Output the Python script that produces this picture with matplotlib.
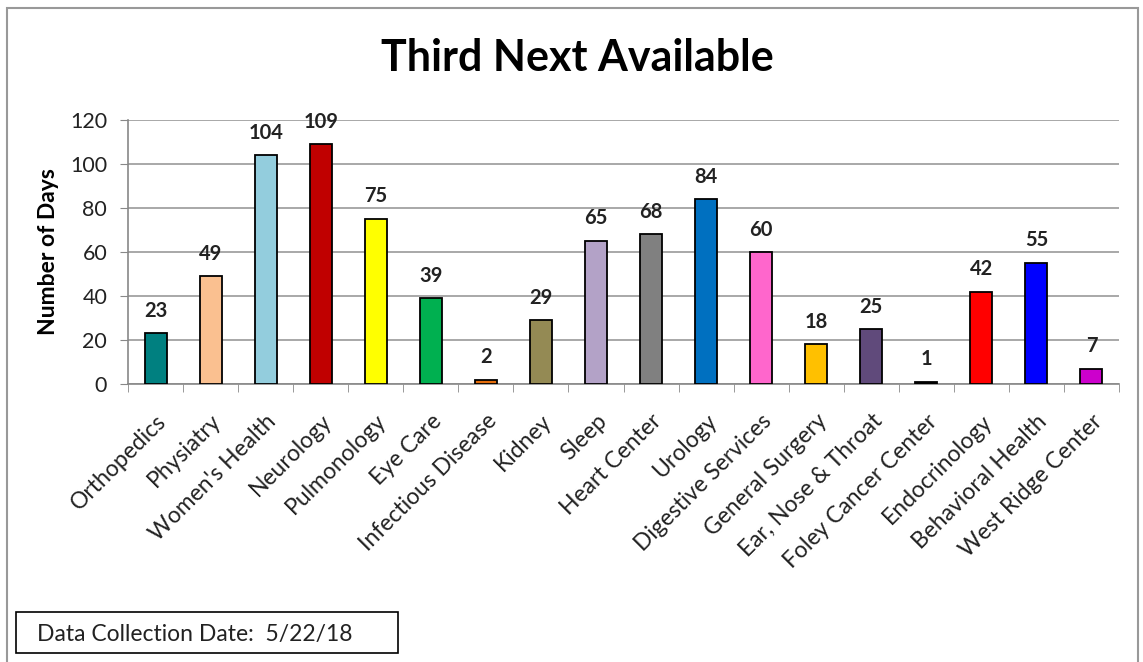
import numpy as np
import matplotlib
matplotlib.use('Agg')
import matplotlib.pyplot as plt
from matplotlib.patches import Rectangle

plt.rcParams['font.family'] = ['Lato', 'DejaVu Sans']

clinics = ['Orthopedics', 'Physiatry', "Women's Health", 'Neurology', 'Pulmonology',
           'Eye Care', 'Infectious Disease', 'Kidney', 'Sleep', 'Heart Center',
           'Urology', 'Digestive Services', 'General Surgery', 'Ear, Nose & Throat',
           'Foley Cancer Center', 'Endocrinology', 'Behavioral Health', 'West Ridge Center']
days = [23, 49, 104, 109, 75, 39, 2, 29, 65, 68, 84, 60, 18, 25, 1, 42, 55, 7]
colors = ['#008080', '#FAC090', '#93CDDD', '#C00000', '#FFFF00', '#00B050',
          '#E46C0A', '#948A54', '#B3A2C7', '#808080', '#0070C0', '#FF66CC',
          '#FFC000', '#604A7B', '#000000', '#FF0000', '#0000FF', '#CC00CC']
yticks = [0, 20, 40, 60, 80, 100, 120]

fig = plt.figure(figsize=(11.43, 6.62), dpi=100)
ax = fig.add_axes([128 / 1143, 1 - 384 / 662, (1119 - 128) / 1143, (384 - 120) / 662])

x = np.arange(len(clinics))
ax.bar(x, days, width=0.4, color=colors, edgecolor='black', linewidth=1.3, zorder=3)
for xi, v in zip(x, days):
    ax.annotate(str(v), (xi, v), xytext=(0, 9), textcoords='offset points',
                ha='center', va='bottom', fontsize=14.5, fontweight='bold', color='#222222')

ax.set_xlim(-0.5, len(clinics) - 0.5)
ax.set_ylim(0, 120)
ax.set_yticks(yticks)
ax.tick_params(axis='y', labelsize=15.5, length=6, pad=9, color='#888888', labelcolor='#222222')
ax.yaxis.grid(True, color='#999999', linewidth=1.2, zorder=0)

ax.set_xticks(x)
ax.set_xticklabels(clinics, rotation=45, ha='right', va='top', rotation_mode='anchor',
                   fontsize=16.5, color='#222222')
ax.tick_params(axis='x', length=0, pad=19)
ax.set_xticks(np.arange(-0.5, len(clinics)), minor=True)
ax.tick_params(axis='x', which='minor', length=6, color='#888888')

for s in ['top', 'right']:
    ax.spines[s].set_visible(False)
for s in ['left', 'bottom']:
    ax.spines[s].set_color('#888888')
    ax.spines[s].set_linewidth(1.2)

ax.set_ylabel('Number of Days', fontsize=16.5, fontweight='bold', labelpad=8)

fig.text(577 / 1143, 1 - 58 / 662, 'Third Next Available', ha='center', va='center',
         fontsize=31, fontweight='bold')

fig.patches.append(Rectangle((7 / 1143, -0.01), (1138 - 7) / 1143, 1 - 8 / 662 + 0.01,
                             transform=fig.transFigure, fill=False,
                             edgecolor='#999999', linewidth=1.5))
fig.patches.append(Rectangle((16 / 1143, 1 - 653 / 662), (398 - 16) / 1143, 41 / 662,
                             transform=fig.transFigure, fill=False,
                             edgecolor='black', linewidth=1.2))
fig.text(37 / 1143, 1 - 634 / 662, 'Data Collection Date:  5/22/18', ha='left',
         va='center', fontsize=16.5, color='#222222')

fig.savefig('out.png', dpi=100)
